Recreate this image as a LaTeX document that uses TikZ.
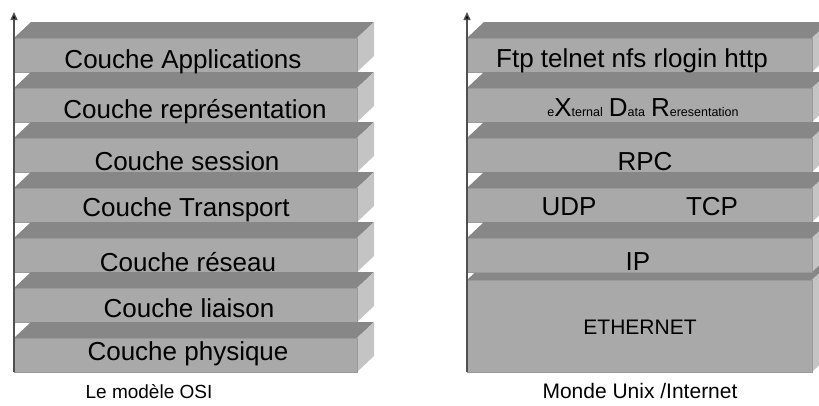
\documentclass[tikz,border=0pt]{standalone}
\usepackage{fontspec}
\setmainfont{Liberation Sans}
\usetikzlibrary{arrows.meta}
\definecolor{topc}{HTML}{878787}
\definecolor{frontc}{HTML}{A9A9A9}
\definecolor{sidec}{HTML}{C4C4C4}
\definecolor{edgec}{HTML}{9A9A9A}
\definecolor{axisc}{HTML}{505050}
% #1 x left, #2 x right, #3 y top of front face, #4 y bottom of front face
\newcommand\layerslab[4]{%
  \fill[topc] (#1,#3) -- ({#1+17},{#3-16}) -- ({#2+17},{#3-16}) -- (#2,#3) -- cycle;
  \fill[sidec] (#2,#3) -- ({#2+17},{#3-16}) -- ({#2+17},{#4-16}) -- (#2,#4) -- cycle;
  \filldraw[fill=frontc,draw=edgec,line width=0.6pt] (#1,#3) rectangle (#2,#4);
}
\tikzset{
  lay/.style={anchor=base,inner sep=0pt,font=\fontsize{26}{30}\selectfont},
  capt/.style={anchor=base,inner sep=0pt},
  axisline/.style={draw=axisc,line width=1.4pt,-{Triangle[length=8pt,width=7pt,fill=black]}}
}
\newcommand\smtxt[1]{{\fontsize{12.5}{14}\selectfont #1}}
\newcommand\bgtxt[1]{{\fontsize{26}{30}\selectfont #1}}
\begin{document}
\begin{tikzpicture}[x=1pt,y=-1pt]
\useasboundingbox (0,0) rectangle (819,405);
\clip (0,0) rectangle (819,405);
% left stack
\layerslab{14}{357}{38}{72}
\layerslab{14}{357}{88}{122}
\layerslab{14}{357}{138}{172}
\layerslab{14}{357}{188}{222}
\layerslab{14}{357}{238}{272}
\layerslab{14}{357}{288}{322}
\layerslab{14}{357}{338}{372}
% right stack
\layerslab{467}{812}{280}{372}
\layerslab{467}{812}{38}{72}
\layerslab{467}{812}{88}{122}
\layerslab{467}{812}{138}{172}
\layerslab{467}{812}{188}{222}
\layerslab{467}{812}{238}{272}
% axes
\coordinate (aL0) at (14,372);
\coordinate (aL1) at (14,12);
\coordinate (aR0) at (467,372);
\coordinate (aR1) at (467,12);
\draw[axisline] (aL0) -- (aL1);
\draw[axisline] (aR0) -- (aR1);
% left texts
\node[lay] (l7) at (183,68) {Couche Applications};
\node[lay] (l6) at (195,118) {Couche représentation};
\node[lay] (l5) at (187,170) {Couche session};
\node[lay] (l4) at (186,216) {Couche Transport};
\node[lay] (l3) at (188,271) {Couche réseau};
\node[lay] (l2) at (189,317) {Couche liaison};
\node[lay] (l1) at (188,360) {Couche physique};
\node[capt,font=\fontsize{19}{22}\selectfont] (cL) at (149,398) {Le modèle OSI};
% right texts
\node[lay] (r6) at (632,67) {Ftp telnet nfs rlogin http};
\node[lay] (r5) at (643,116) {\smtxt{e}\bgtxt{X}\smtxt{ternal}\hspace{6pt}\bgtxt{D}\smtxt{ata}\hspace{6pt}\bgtxt{R}\smtxt{eresentation}};
\node[lay] (r4) at (645,170) {RPC};
\node[lay] (r3a) at (569,215) {UDP};
\node[lay] (r3b) at (712,215) {TCP};
\node[lay] (r2) at (638,270) {IP};
\node[capt,font=\fontsize{21}{24}\selectfont] (r1) at (640,334) {ETHERNET};
\node[capt,font=\fontsize{21}{24}\selectfont] (cR) at (640,398) {Monde Unix /Internet};
\end{tikzpicture}
\end{document}
